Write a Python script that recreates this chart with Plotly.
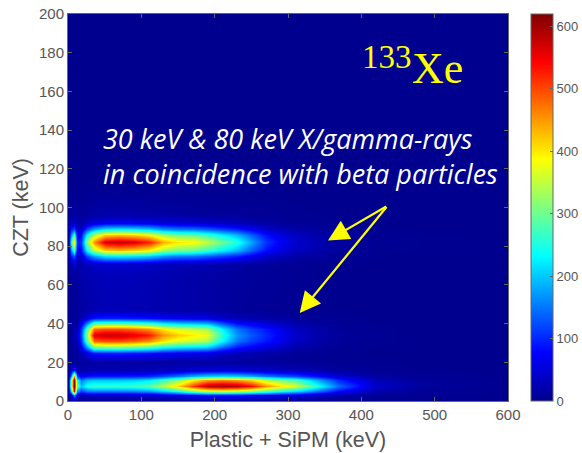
import plotly.graph_objects as go

energy_x = [0,4,8,12,18,26,35,50,70,90,110,130,150,170,190,210,230,250,270,290,310,340,370,420,480,600]
czt_y = [0,3,5,8,11,13,16,20,25,28,31,34,37,40,43,47,55,65,71,75,78,82,86,89,92,96,105,115,200]
counts = [
 [0]*26,
 [0,40,170,40,25,35,38,38,38,40,42,50,60,75,88,92,88,80,68,60,52,35,20,6,2,0],
 [0,220,570,170,115,150,155,155,155,160,170,205,250,310,350,365,350,325,280,245,215,150,80,22,6,0],
 [0,340,620,280,190,250,260,260,260,265,285,340,410,505,585,600,585,540,455,400,365,250,140,40,10,0],
 [0,320,610,240,150,190,200,200,200,205,220,265,320,395,450,465,450,415,350,305,275,185,100,28,8,0],
 [0,170,450,110,65,85,92,92,92,95,102,125,150,185,205,212,205,185,155,135,120,82,45,12,4,0],
 [0,40,90,22,18,22,24,24,24,25,27,32,38,45,50,52,50,46,38,32,28,20,11,3,1,0],
 [0,6,8,8,10,12,14,15,14,14,13,13,12,12,12,12,11,10,9,8,6,4,2,1,0,0],
 [0,6,8,10,25,55,90,95,95,90,85,72,66,62,60,42,28,22,16,12,7,4,2,0,0,0],
 [0,8,10,20,68,175,300,312,312,300,282,245,225,215,205,140,92,72,55,39,22,11,4,1,0,0],
 [0,10,14,36,108,285,480,495,495,480,455,400,368,352,335,230,150,115,90,63,36,18,7,2,0,0],
 [0,10,15,40,120,330,560,578,578,560,530,455,418,398,378,258,168,130,100,70,40,20,8,2,0,0],
 [0,10,14,36,108,285,480,495,495,480,455,400,368,352,335,230,150,115,90,63,36,18,7,2,0,0],
 [0,8,10,20,68,175,300,312,312,300,282,245,225,215,205,140,92,72,55,39,22,11,4,1,0,0],
 [0,6,8,10,25,55,90,95,95,90,85,72,66,62,60,42,28,22,16,12,7,4,2,0,0,0],
 [0,6,8,8,12,18,25,27,27,25,24,22,20,18,16,12,8,6,5,4,2,1,0,0,0,0],
 [0,6,8,9,16,20,24,27,27,26,24,22,20,18,15,12,9,7,6,4,3,1,0,0,0,0],
 [0,8,10,11,18,24,28,30,30,28,26,23,21,18,16,13,10,8,7,5,3,1,0,0,0,0],
 [0,25,40,20,20,30,38,42,42,40,38,32,28,26,24,20,16,12,9,6,4,2,1,0,0,0],
 [0,90,130,40,42,122,175,217,224,217,201,167,152,148,133,114,95,68,42,27,17,10,4,1,0,0],
 [0,170,280,70,86,240,345,420,432,420,395,335,305,298,268,230,192,138,86,55,35,20,8,2,1,0],
 [0,250,400,90,110,320,455,562,578,562,525,438,400,390,350,300,250,180,110,70,45,25,10,3,1,0],
 [0,170,270,65,86,240,345,420,432,420,395,335,305,298,268,230,192,138,86,55,35,20,8,2,1,0],
 [0,90,120,35,42,122,175,217,224,217,201,167,152,148,133,114,95,68,42,27,17,10,4,1,0,0],
 [0,35,45,20,16,38,55,68,71,68,64,53,48,47,42,36,30,22,13,8,5,3,1,0,0,0],
 [0,12,15,10,8,12,16,20,20,19,18,16,14,12,10,9,8,6,4,3,2,1,0,0,0,0],
 [0,3,4,4,4,5,6,7,7,6,5,5,4,3,3,2,2,1,1,1,0,0,0,0,0,0],
 [0]*26,
 [0]*26,
]
x_ticks = [0,100,200,300,400,500,600]
y_ticks = [0,20,40,60,80,100,120,140,160,180,200]
cbar_ticks = [0,100,200,300,400,500,600]
note_text = "30 keV &amp; 80 keV X/gamma-rays<br>in coincidence with beta particles"

jet = [[0,"#00008f"],[0.125,"#0000ff"],[0.375,"#00ffff"],[0.625,"#ffff00"],[0.875,"#ff0000"],[1,"#800000"]]
GREY = "#555555"
AXIS = "#666666"

FIG_W, FIG_H = 582, 453
M_L, M_R, M_T, M_B = 68, 74, 14, 52
PW, PH = FIG_W - M_L - M_R, FIG_H - M_T - M_B
CB_L = 531
def fx(p): return (p - M_L) / PW
def fy(p): return (FIG_H - M_B - p) / PH

fig = go.Figure(go.Heatmap(
    x=energy_x, y=czt_y, z=counts, zmin=0, zmax=620, zsmooth="best",
    colorscale=jet,
    colorbar=dict(thickness=22, thicknessmode="pixels", len=1, lenmode="fraction",
                  x=fx(CB_L), xanchor="left", xpad=0, ypad=0, y=0, yanchor="bottom",
                  tickvals=cbar_ticks, ticks="inside", ticklen=3, tickcolor=AXIS,
                  outlinecolor=AXIS, outlinewidth=1, borderwidth=0,
                  tickfont=dict(family="Liberation Sans", size=13, color=GREY)),
))
axis_common = dict(showgrid=False, zeroline=False, ticks="inside", ticklen=4, tickcolor=AXIS,
                   showline=True, linecolor=AXIS, linewidth=1, mirror="ticks",
                   tickfont=dict(family="Liberation Sans", size=15, color=GREY))
fig.update_xaxes(range=[0,600], tickvals=x_ticks,
                 title=dict(text="Plastic + SiPM (keV)", standoff=9,
                 font=dict(family="Liberation Sans", size=21.5, color=GREY)), **axis_common)
fig.update_yaxes(range=[0,200], tickvals=y_ticks,
                 title=dict(text="CZT (keV)", standoff=4,
                 font=dict(family="Liberation Sans", size=21.5, color=GREY)), **axis_common)

for text, xp, yp, size, fam, col, style in [
    ("133", 362, 57, 33, "Liberation Serif", "#ffff00", "normal"),
    ("Xe", 412, 68, 44, "Liberation Serif", "#ffff00", "normal"),
    (note_text, 103, 156, 27, "Open Sans", "white", "italic"),
]:
    fig.add_annotation(text=text, xref="paper", yref="paper", x=fx(xp), y=fy(yp), xanchor="left", yanchor="middle",
                       align="left", showarrow=False, font=dict(family=fam, size=size, color=col, style=style),
                       borderpad=0, borderwidth=0)

for hx, hy in [(354.5, 83), (316, 45.5)]:
    fig.add_annotation(x=hx, y=hy, ax=436, ay=101, xref="x", yref="y", axref="x", ayref="y", text="",
                       showarrow=True, arrowhead=2, arrowsize=1.9, arrowwidth=2.2, arrowcolor="#ffff00")

fig.update_layout(width=FIG_W, height=FIG_H,
                  margin=dict(l=M_L, r=M_R, t=M_T, b=M_B, autoexpand=False),
                  paper_bgcolor="white", plot_bgcolor="#00008f", showlegend=False)
fig.write_html("out.html", config=dict(displayModeBar=False),
               post_script="document.body.style.margin='0';")
